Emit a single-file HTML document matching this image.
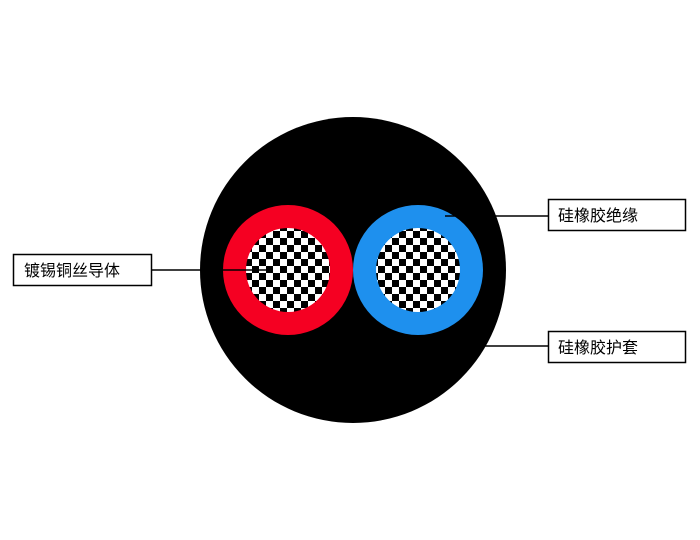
<!DOCTYPE html>
<html><head><meta charset="utf-8"><style>
html,body{margin:0;padding:0;background:#fff;width:700px;height:540px;overflow:hidden}
text{font-family:"Liberation Sans","Noto Sans CJK SC",sans-serif;font-size:16px;fill:#000}
</style></head><body>
<svg width="700" height="540" xmlns="http://www.w3.org/2000/svg">
<defs>
<pattern id="ck" width="14" height="14" patternUnits="userSpaceOnUse" x="0" y="0">
<rect width="14" height="14" fill="#fff"/>
<rect width="7" height="7" fill="#000"/>
<rect x="7" y="7" width="7" height="7" fill="#000"/>
</pattern>
</defs>
<circle cx="353" cy="270" r="153" fill="#000"/>
<circle cx="288" cy="270" r="65" fill="#f50022"/>
<circle cx="288" cy="270" r="42" fill="url(#ck)"/>
<circle cx="418" cy="270" r="65" fill="#1e90ee"/>
<circle cx="418" cy="270" r="42" fill="url(#ck)"/>
<line x1="152" y1="270" x2="268" y2="270" stroke="#000" stroke-width="1.5"/>
<line x1="445" y1="216" x2="548" y2="216" stroke="#000" stroke-width="1.5"/>
<line x1="485" y1="346" x2="548" y2="346" stroke="#000" stroke-width="1.5"/>
<rect x="13.5" y="254.5" width="138" height="31" fill="#fff" stroke="#000" stroke-width="1.5"/>
<text x="24" y="276">镀锡铜丝导体</text>
<rect x="548.5" y="199.5" width="137" height="31" fill="#fff" stroke="#000" stroke-width="1.5"/>
<text x="558" y="221">硅橡胶绝缘</text>
<rect x="548.5" y="331.5" width="137" height="31" fill="#fff" stroke="#000" stroke-width="1.5"/>
<text x="558" y="353">硅橡胶护套</text>
</svg>
</body></html>
